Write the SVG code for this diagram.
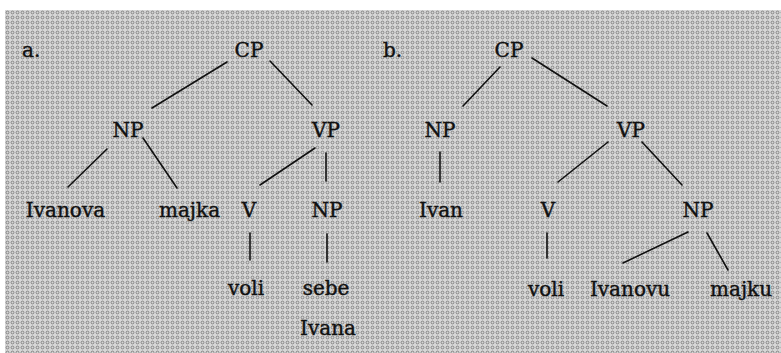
<svg xmlns="http://www.w3.org/2000/svg" width="781" height="353" viewBox="0 0 781 353">
  <defs>
    <pattern id="dots" width="5" height="5" patternUnits="userSpaceOnUse">
      <rect width="5" height="5" fill="#d6d6d6"/>
      <circle cx="2.5" cy="2.5" r="1.4" fill="none" stroke="#7a7a7a" stroke-width="0.9"/>
    </pattern>
  </defs>
  <style>
    .t { font-family: "DejaVu Serif", "Liberation Serif", serif; font-size: 20px; fill: #111; stroke: #111; stroke-width: 0.4; text-anchor: middle; }
    .s { text-anchor: start; }
    .e line { stroke: #111; stroke-width: 1.6; stroke-linecap: round; }
  </style>
  <rect width="781" height="353" fill="#ffffff"/>
  <rect x="5" y="10" width="776" height="343" fill="url(#dots)"/>

  <g id="edges" class="e">
    <!-- tree a -->
    <line x1="227" y1="62" x2="152" y2="108"/>
    <line x1="270" y1="61" x2="312" y2="105"/>
    <line x1="107" y1="149" x2="68" y2="187"/>
    <line x1="143" y1="138" x2="177" y2="188"/>
    <line x1="315" y1="148" x2="260" y2="185"/>
    <line x1="326" y1="153" x2="326" y2="181"/>
    <line x1="250" y1="233" x2="250" y2="260"/>
    <line x1="327" y1="234" x2="327" y2="262"/>
    <!-- tree b -->
    <line x1="500" y1="67" x2="463" y2="106"/>
    <line x1="532" y1="58" x2="607" y2="106"/>
    <line x1="440" y1="152" x2="440" y2="182"/>
    <line x1="608" y1="142" x2="558" y2="182"/>
    <line x1="642" y1="142" x2="682" y2="185"/>
    <line x1="547" y1="233" x2="547" y2="258"/>
    <line x1="688" y1="232" x2="623" y2="263"/>
    <line x1="707" y1="233" x2="728" y2="270"/>
  </g>

  <g id="label-a"><text class="t s" x="22" y="57">a.</text></g>
  <g id="a-CP"><text class="t" x="249" y="57">CP</text></g>
  <g id="a-NP"><text class="t" x="128" y="137">NP</text></g>
  <g id="a-VP"><text class="t" x="326" y="137">VP</text></g>
  <g id="a-Ivanova"><text class="t" x="65.5" y="217">Ivanova</text></g>
  <g id="a-majka"><text class="t" x="189.5" y="217">majka</text></g>
  <g id="a-V"><text class="t" x="249" y="217">V</text></g>
  <g id="a-NP2"><text class="t" x="327" y="217">NP</text></g>
  <g id="a-voli"><text class="t" x="246" y="295">voli</text></g>
  <g id="a-sebe"><text class="t" x="326" y="295">sebe</text><text class="t" x="328" y="335">Ivana</text></g>

  <g id="label-b"><text class="t s" x="383" y="57">b.</text></g>
  <g id="b-CP"><text class="t" x="509" y="57">CP</text></g>
  <g id="b-NP"><text class="t" x="440" y="137">NP</text></g>
  <g id="b-VP"><text class="t" x="631" y="137">VP</text></g>
  <g id="b-Ivan"><text class="t" x="441" y="217">Ivan</text></g>
  <g id="b-V"><text class="t" x="548" y="217">V</text></g>
  <g id="b-NP2"><text class="t" x="698" y="217">NP</text></g>
  <g id="b-voli"><text class="t" x="546" y="296">voli</text></g>
  <g id="b-Ivanovu"><text class="t" x="630" y="296">Ivanovu</text></g>
  <g id="b-majku"><text class="t s" x="710" y="296">majku</text></g>
</svg>
